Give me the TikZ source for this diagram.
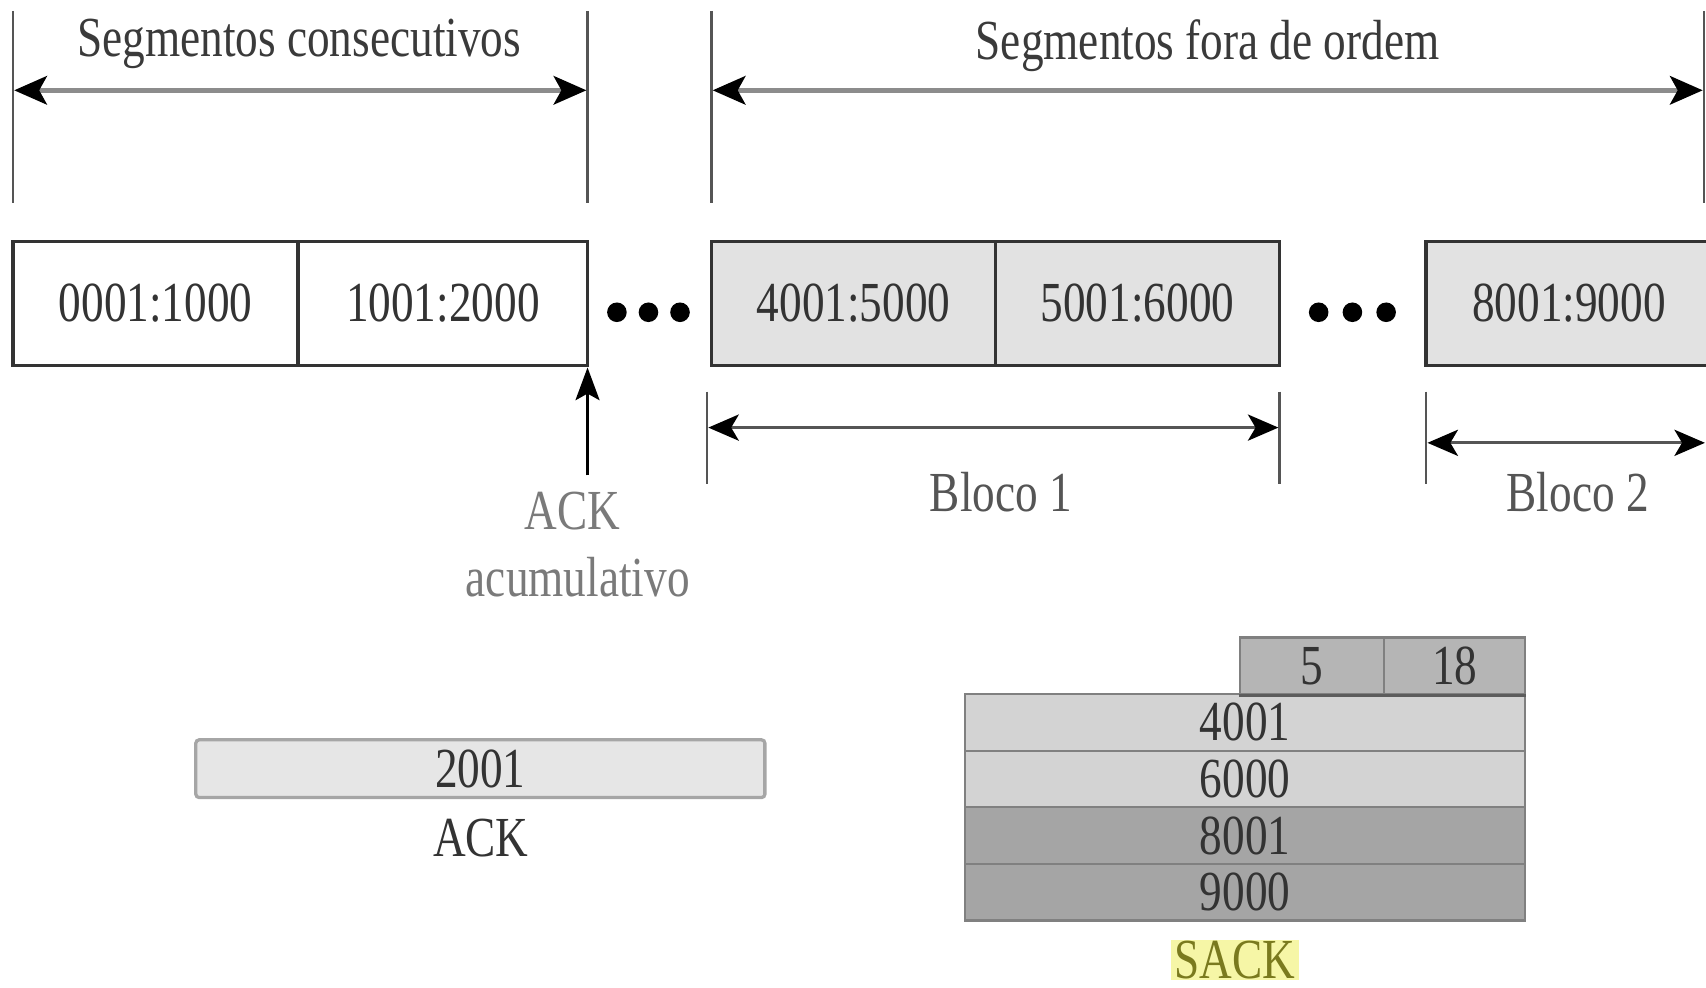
\documentclass[tikz,border=0pt]{standalone}
\usepackage{fontspec}
\setmainfont{Liberation Serif}
\newfontfamily\cond[FakeStretch=0.8]{Liberation Serif}
\usetikzlibrary{arrows.meta}
\definecolor{headc}{HTML}{3A3A3A}
\definecolor{numc}{HTML}{333333}
\definecolor{lightc}{HTML}{7A7A7A}
\definecolor{midc}{HTML}{555555}
\definecolor{segfill}{HTML}{E2E2E2}
\definecolor{ackfill}{HTML}{E6E6E6}
\definecolor{topfill}{HTML}{B5B5B5}
\definecolor{rowlight}{HTML}{D3D3D3}
\definecolor{rowdark}{HTML}{A5A5A5}
\definecolor{sackbg}{HTML}{F6F6A6}
\definecolor{sacktxt}{HTML}{7A7A1E}
\tikzset{
  txt/.style={font=\cond\fontsize{52}{56}\selectfont, inner sep=0pt},
  segbox/.style={txt, draw=numc, line width=3.5pt, minimum height=114pt, text=numc},
  vline/.style={draw=midc, line width=2pt},
  tipb/.tip={Stealth[length=30pt, width=26pt, inset=7pt, black]},
  dimarrow/.style={draw=gray!90, line width=5pt, tipb-tipb},
  blockarrow/.style={draw=midc, line width=3pt, {Stealth[length=28pt, width=24pt, inset=7pt, black]}-{Stealth[length=28pt, width=24pt, inset=7pt, black]}},
  dot/.style={circle, fill=black, minimum size=18pt, inner sep=0pt},
  sackcell/.style={txt, draw=gray, line width=2pt, minimum height=52pt, text=numc},
}
\begin{document}
\begin{tikzpicture}[x=1pt, y=-1pt]
\useasboundingbox (0,0) rectangle (1568,908);
\clip (0,0) rectangle (1568,908);

% top dimension lines
\coordinate (v1t) at (12,10);   \coordinate (v1b) at (12,187);
\coordinate (v2t) at (540,10);  \coordinate (v2b) at (540,187);
\coordinate (v3t) at (654,10);  \coordinate (v3b) at (654,187);
\coordinate (v4t) at (1566,10); \coordinate (v4b) at (1566,187);
\draw[vline] (v1t) -- (v1b);
\draw[vline] (v2t) -- (v2b);
\draw[vline] (v3t) -- (v3b);
\draw[vline] (v4t) -- (v4b);
\coordinate (a1l) at (13,83);  \coordinate (a1r) at (539,83);
\coordinate (a2l) at (655,83); \coordinate (a2r) at (1565,83);
\draw[dimarrow] (a1l) -- (a1r);
\draw[dimarrow] (a2l) -- (a2r);
\node[txt, text=headc] (h1) at (275,40) {Segmentos consecutivos};
\node[txt, text=headc] (h2) at (1110,42) {Segmentos fora de ordem};

% segments
\node[segbox, fill=white, minimum width=262pt] (s1) at (143,279) {0001:1000};
\node[segbox, fill=white, minimum width=266pt] (s2) at (407,279) {1001:2000};
\node[segbox, fill=segfill, minimum width=261pt] (s3) at (784.5,279) {4001:5000};
\node[segbox, fill=segfill, minimum width=261pt] (s4) at (1045.5,279) {5001:6000};
\node[segbox, fill=segfill, minimum width=262pt] (s5) at (1442,279) {8001:9000};

\node[dot] (d1) at (567,287) {};
\node[dot] (d2) at (596,287) {};
\node[dot] (d3) at (625,287) {};
\node[dot] (d4) at (1212,287) {};
\node[dot] (d5) at (1243,287) {};
\node[dot] (d6) at (1274,287) {};

% cumulative ACK arrow
\coordinate (ackfoot) at (540,437);
\draw[black, line width=3pt, -{Stealth[length=30pt, width=22pt, inset=6pt, black]}] (ackfoot) -- (ackfoot |- s2.south);
\node[txt, text=lightc] (ackl1) at (526,470) {ACK};
\node[txt, text=lightc] (ackl2) at (531,530) {acumulativo};

% blocks
\coordinate (b1t) at (650,360);  \coordinate (b1b) at (650,445);
\coordinate (b2t) at (1176,360); \coordinate (b2b) at (1176,445);
\coordinate (b3t) at (1311,360); \coordinate (b3b) at (1311,445);
\draw[vline] (b1t) -- (b1b);
\draw[vline] (b2t) -- (b2b);
\draw[vline] (b3t) -- (b3b);
\coordinate (ba1l) at (651,393);  \coordinate (ba1r) at (1175,393);
\coordinate (ba2l) at (1312,407); \coordinate (ba2r) at (1567,407);
\draw[blockarrow] (ba1l) -- (ba1r);
\draw[blockarrow] (ba2l) -- (ba2r);
\node[txt, text=midc] (bl1) at (920,452) {Bloco 1};
\node[txt, text=midc] (bl2) at (1450,452) {Bloco 2};

% ACK box
\node[txt, draw=gray!70, fill=ackfill, line width=3pt, rounded corners=3pt,
      minimum width=523pt, minimum height=53pt, text=numc] (ackbox) at (441.5,706.5) {2001};
\node[txt, text=numc] (ackname) at (442,770) {ACK};

% SACK
\node[sackcell, fill=topfill, minimum width=132pt] (c5) at (1206,612) {5};
\node[sackcell, fill=topfill, minimum width=130pt] (c18) at (1337,612) {18};
\node[sackcell, fill=rowlight, minimum width=515pt] (r1) at (1144.5,664) {4001};
\node[sackcell, fill=rowlight, minimum width=515pt] (r2) at (1144.5,716) {6000};
\node[sackcell, fill=rowdark, minimum width=515pt] (r3) at (1144.5,768) {8001};
\node[sackcell, fill=rowdark, minimum width=515pt] (r4) at (1144.5,820) {9000};
\draw[numc!80, line width=3pt] (c5.south west) -- (c18.south east);
\node[txt, fill=sackbg, text=sacktxt, inner xsep=3pt, inner ysep=1pt] (sack) at (1135,882) {SACK};
\end{tikzpicture}
\end{document}
